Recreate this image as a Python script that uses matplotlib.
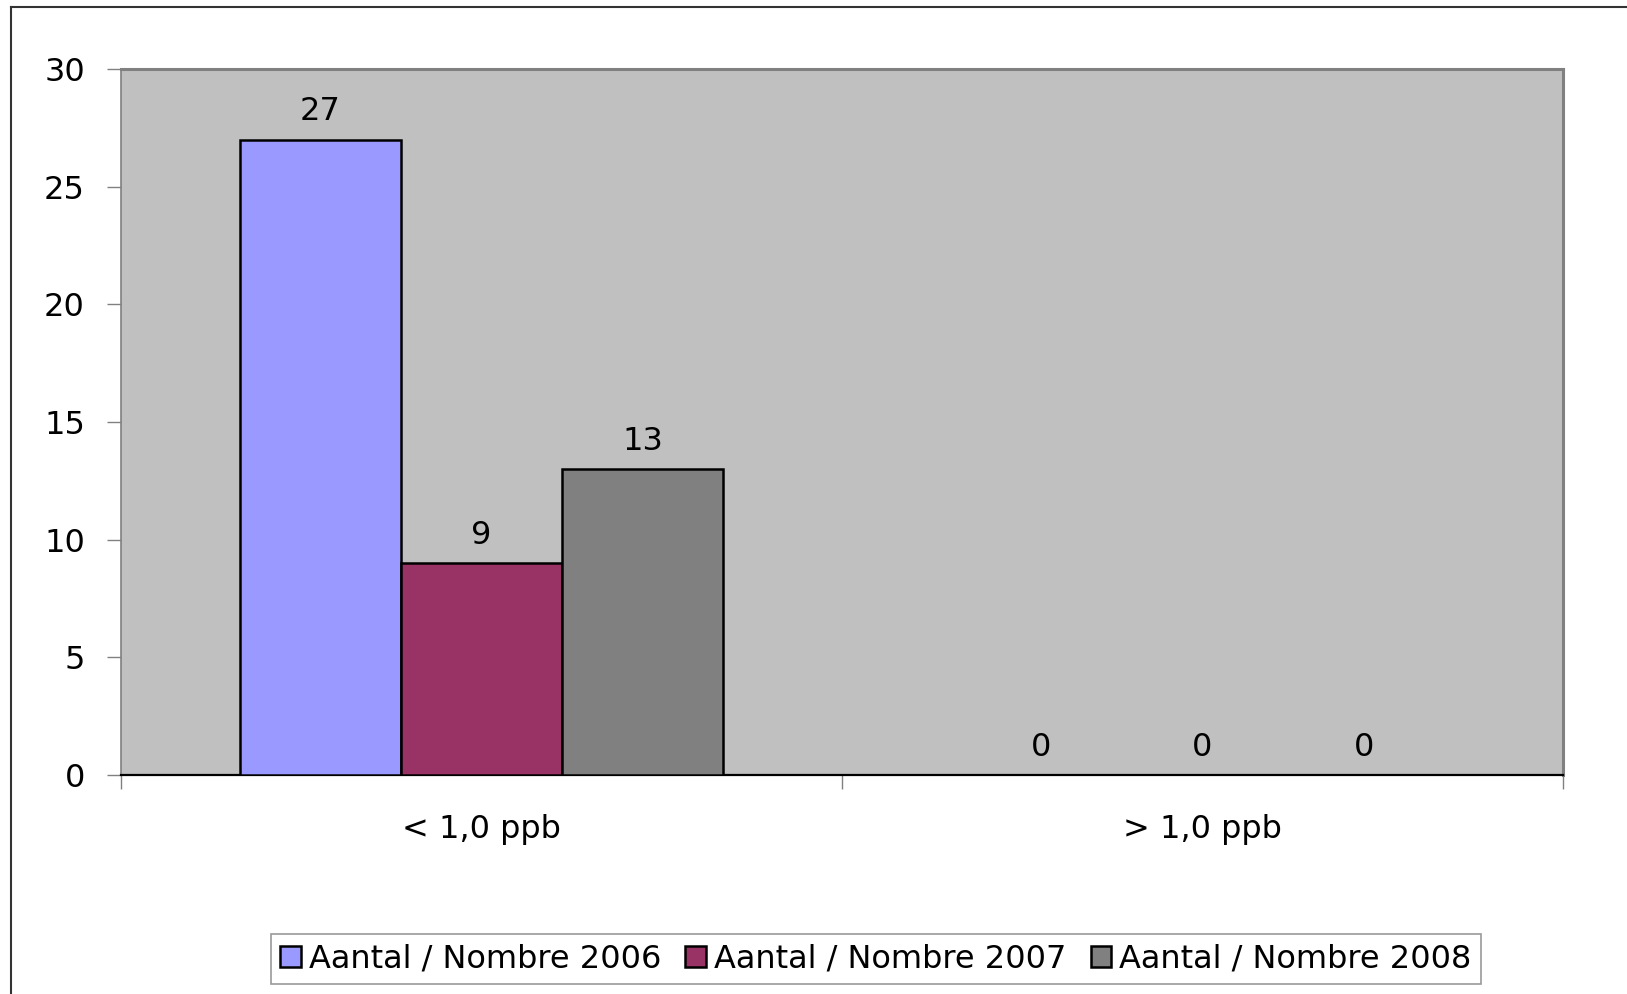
import matplotlib
matplotlib.use("Agg")
import matplotlib.pyplot as plt
from matplotlib.lines import Line2D
import numpy as np

categories = ["< 1,0 ppb", "> 1,0 ppb"]
series_names = ["Aantal / Nombre 2006", "Aantal / Nombre 2007", "Aantal / Nombre 2008"]
values_2006 = [27, 0]
values_2007 = [9, 0]
values_2008 = [13, 0]
series_values = [values_2006, values_2007, values_2008]
colors = ["#9999FF", "#993366", "#808080"]
yticks = [0, 5, 10, 15, 20, 25, 30]

plt.rcParams['font.family'] = ['DejaVu Sans']
fig = plt.figure(figsize=(16.27, 9.94), dpi=100)
ax = fig.add_axes([121/1627, 1-775/994, (1563-121)/1627, (775-69)/994])
ax.set_facecolor("#C0C0C0")

x = np.arange(len(categories))
bw = 0.2236
fs = 23
for i, (name, vals, c) in enumerate(zip(series_names, series_values, colors)):
    pos = x + (i - 1) * bw
    ax.bar(pos, vals, width=bw, color=c, edgecolor="black", linewidth=1.8,
           label=name, zorder=3)
    for p, v in zip(pos, vals):
        ax.annotate(str(v), (p, v), xytext=(0, 9), textcoords="offset points",
                    ha="center", va="bottom", fontsize=fs, color="black")

ax.set_xlim(-0.5, 1.5)
ax.set_ylim(0, 30)
ax.set_yticks(yticks)
ax.set_yticklabels([str(t) for t in yticks], fontsize=fs)
ax.set_xticks([-0.5, 0.5, 1.5], minor=False)
ax.set_xticklabels([])
ax.set_xticks(x, minor=True)
ax.set_xticklabels(categories, minor=True, fontsize=fs)
ax.tick_params(axis="x", which="minor", length=0, pad=28)
ax.tick_params(axis="x", which="major", length=10, width=1, color="#808080", direction="out")
ax.tick_params(axis="y", length=10, width=1, color="#808080", direction="out", pad=16)

for s in ["top", "right", "left"]:
    ax.spines[s].set_color("#808080")
    ax.spines[s].set_linewidth(2.2)
ax.spines["left"].set_linewidth(1.2)
ax.spines["bottom"].set_color("black")
ax.spines["bottom"].set_linewidth(1.6)

leg = fig.legend(loc="center", bbox_to_anchor=((265+1487)/2/1627, 1-959/994),
                 ncol=3, fontsize=fs, frameon=True, fancybox=False,
                 handlelength=0.65, handleheight=0.65, handletextpad=0.25,
                 columnspacing=0.75, borderpad=0.3, borderaxespad=0.3,
                 edgecolor="#808080")
leg.get_frame().set_linewidth(1.2)

# outer chart frame
fig.add_artist(Line2D([11/1627, 11/1627], [0, 1-7/994], transform=fig.transFigure,
                      color="#333333", linewidth=1.5))
fig.add_artist(Line2D([11/1627, 1], [1-7/994, 1-7/994], transform=fig.transFigure,
                      color="#333333", linewidth=1.5))

fig.savefig("out.png", dpi=100)
